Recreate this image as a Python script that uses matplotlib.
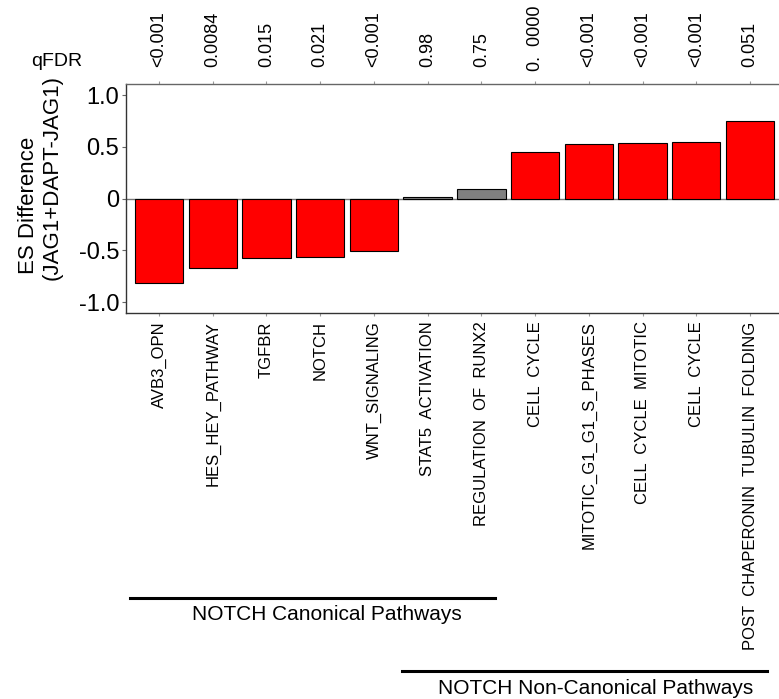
import numpy as np
import matplotlib
matplotlib.use("Agg")
import matplotlib.pyplot as plt
from matplotlib.lines import Line2D
from matplotlib.transforms import blended_transform_factory

plt.rcParams['font.family'] = ['Liberation Sans', 'DejaVu Sans']

################################################################################
# data
pathways = ["AVB3_OPN", "HES_HEY_PATHWAY", "TGFBR", "NOTCH", "WNT_SIGNALING",
            "STAT5  ACTIVATION", "REGULATION  OF  RUNX2", "CELL  CYCLE",
            "MITOTIC_G1_G1_S_PHASES", "CELL  CYCLE  MITOTIC", "CELL  CYCLE",
            "POST  CHAPERONIN  TUBULIN  FOLDING"]
esDiff   = [-0.815, -0.67, -0.575, -0.565, -0.51, 0.013, 0.094,
            0.454, 0.53, 0.538, 0.55, 0.754]
qFdr     = ["<0.001", "0.0084", "0.015", "0.021", "<0.001", "0.98", "0.75",
            "0.  0000", "<0.001", "<0.001", "<0.001", "0.051"]
signif   = [True, True, True, True, True, False, False,
            True, True, True, True, True]
yTicks      = [-1.0, -0.5, 0, 0.5, 1.0]
yTickLabels = ["-1.0", "-0.5", "0", "0.5", "1.0"]
groups   = ["NOTCH Canonical Pathways", "NOTCH Non-Canonical Pathways"]

################################################################################
W, H = 779, 699
fig = plt.figure(figsize=(W/100, H/100), dpi=100)
def fx(px): return px / W
def fy(py): return 1 - py / H

ax = fig.add_axes([fx(126), fy(313), fx(783) - fx(126), fy(84) - fy(313)])
x = np.arange(len(pathways))
colors = ["#ff0000" if s else "#808080" for s in signif]
ax.bar(x, esDiff, width=0.9, color=colors, edgecolor="black", linewidth=0.8, zorder=3)
ax.axhline(0, color="#777777", lw=1.0, zorder=2)

ax.set_xlim(-0.614, len(pathways) - 1 + 0.614)
ax.set_ylim(-1.105, 1.108)
ax.set_yticks(yTicks)
ax.set_yticklabels(yTickLabels, fontsize=17)
ax.set_xticks(x)
ax.set_xticklabels(pathways, rotation=90, fontsize=12, va="top")
ax.tick_params(axis="y", length=3, width=0.8, color="#666666", pad=2)
ax.tick_params(axis="x", length=2, width=0.8, color="#999999", pad=4,
               top=True, direction="out")
for side in ["left", "bottom"]:
    ax.spines[side].set_color("#333333")
    ax.spines[side].set_linewidth(1.0)
ax.spines["top"].set_color("#666666")
ax.spines["top"].set_linewidth(1.0)
ax.spines["right"].set_visible(False)

################################################################################
# qFDR values above each bar
trans = blended_transform_factory(ax.transData, fig.transFigure)
for xi, q in zip(x, qFdr):
    yb = 71 if q.startswith("0. ") else 67
    ax.text(xi, fy(yb), q, rotation=90, ha="center", va="bottom",
            fontsize=13, transform=trans, clip_on=False)
fig.text(fx(57), fy(62), "qFDR", ha="center", va="center", fontsize=14)

# y label, two lines
fig.text(fx(28), fy(205), "ES Difference", rotation=90, ha="center",
         va="center", fontsize=16)
fig.text(fx(52), fy(178), "(JAG1+DAPT-JAG1)", rotation=90, ha="center",
         va="center", fontsize=16)

################################################################################
# group brackets
fig.add_artist(Line2D([fx(130), fx(495)], [fy(598), fy(598)], color="black", lw=2.2))
fig.text(fx(327), fy(615), groups[0], ha="center", va="center", fontsize=15)
fig.add_artist(Line2D([fx(402), fx(767)], [fy(671), fy(671)], color="black", lw=2.2))
fig.text(fx(596), fy(689), groups[1], ha="center", va="center", fontsize=15)

fig.savefig("out.png", dpi=100)
